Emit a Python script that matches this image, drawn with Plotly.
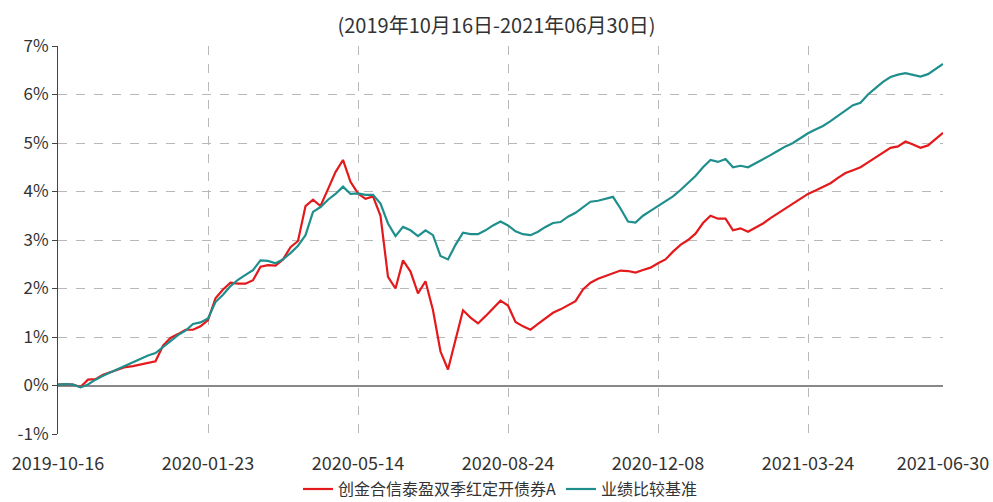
import plotly.graph_objects as go

# ---- data (cumulative return, %), sampled at evenly spaced trading-day steps ----
fund_name = "创金合信泰盈双季红定开债券A"
bench_name = "业绩比较基准"

fund = [
    0.02, 0.03, 0.02, -0.03, 0.12, 0.13, 0.22, 0.27, 0.33, 0.38,
    0.40, 0.43, 0.46, 0.50, 0.82, 0.98, 1.06, 1.15, 1.15, 1.22,
    1.35, 1.80, 1.98, 2.12, 2.10, 2.10, 2.17, 2.45, 2.48, 2.47,
    2.60, 2.85, 2.98, 3.70, 3.83, 3.70, 4.05, 4.40, 4.65, 4.20,
    3.96, 3.85, 3.90, 3.50, 2.24, 2.00, 2.58, 2.35, 1.90, 2.15,
    1.55, 0.70, 0.33, 0.95, 1.55, 1.40, 1.28, 1.43, 1.58, 1.75,
    1.65, 1.31, 1.22, 1.15, 1.27, 1.38, 1.50, 1.57, 1.65, 1.74,
    1.98, 2.12, 2.20, 2.26, 2.32, 2.37, 2.36, 2.33, 2.38, 2.43,
    2.52, 2.60, 2.76, 2.90, 3.00, 3.13, 3.35, 3.50, 3.44, 3.44,
    3.20, 3.24, 3.17, 3.25, 3.34, 3.45, 3.55, 3.65, 3.74, 3.85,
    3.95, 4.02, 4.10, 4.17, 4.28, 4.38, 4.44, 4.50, 4.60, 4.70,
    4.80, 4.90, 4.93, 5.03, 4.97, 4.90, 4.95, 5.08, 5.21,
]

bench = [
    0.02, 0.03, 0.02, -0.04, 0.02, 0.12, 0.20, 0.27, 0.34, 0.41,
    0.47, 0.54, 0.62, 0.67, 0.80, 0.92, 1.04, 1.13, 1.27, 1.30,
    1.38, 1.72, 1.87, 2.05, 2.18, 2.28, 2.38, 2.58, 2.57, 2.52,
    2.60, 2.73, 2.88, 3.10, 3.58, 3.68, 3.83, 3.95, 4.10, 3.95,
    3.96, 3.93, 3.93, 3.75, 3.34, 3.08, 3.27, 3.20, 3.08, 3.20,
    3.10, 2.67, 2.60, 2.90, 3.15, 3.12, 3.12, 3.20, 3.30, 3.38,
    3.30, 3.18, 3.12, 3.10, 3.17, 3.27, 3.35, 3.37, 3.48, 3.56,
    3.68, 3.79, 3.81, 3.85, 3.89, 3.65, 3.38, 3.36, 3.50, 3.60,
    3.70, 3.80, 3.90, 4.03, 4.17, 4.32, 4.50, 4.65, 4.61, 4.67,
    4.50, 4.53, 4.50, 4.58, 4.67, 4.75, 4.84, 4.93, 5.00, 5.10,
    5.20, 5.28, 5.35, 5.45, 5.56, 5.68, 5.78, 5.83, 6.00, 6.13,
    6.26, 6.36, 6.41, 6.44, 6.40, 6.37, 6.42, 6.52, 6.63,
]

tick_positions = [0, 20, 40, 60, 80, 100, 118]
tick_labels = ["2019-10-16", "2020-01-23", "2020-05-14", "2020-08-24",
               "2020-12-08", "2021-03-24", "2021-06-30"]
y_ticks = [-1, 0, 1, 2, 3, 4, 5, 6, 7]
y_tick_labels = ["-1%", "0%", "1%", "2%", "3%", "4%", "5%", "6%", "7%"]

subtitle = "(2019年10月16日-2021年06月30日)"

x_idx = list(range(len(fund)))

FONT = "Noto Sans CJK SC, Microsoft YaHei, sans-serif"
RED = "#E3191B"
TEAL = "#1E8F8C"

fig = go.Figure()
fig.add_trace(go.Scatter(x=x_idx, y=fund, mode="lines", name=fund_name,
                         line=dict(color=RED, width=2.2)))
fig.add_trace(go.Scatter(x=x_idx, y=bench, mode="lines", name=bench_name,
                         line=dict(color=TEAL, width=2.2)))

fig.update_layout(
    width=993, height=502,
    margin=dict(l=58, r=50, t=46, b=68, autoexpand=False),
    paper_bgcolor="white", plot_bgcolor="white",
    font=dict(family=FONT, size=17, color="#333"),
    title=dict(text=subtitle, x=0.5, xanchor="center", y=0.948, yanchor="middle",
               font=dict(family=FONT, size=20, color="#333")),
    showlegend=True,
    legend=dict(orientation="h", x=0.5, xanchor="center", y=-0.142, yanchor="middle",
                font=dict(family=FONT, size=16, color="#333"),
                itemwidth=30, tracegroupgap=0),
    xaxis=dict(range=[0, 118], tickmode="array", tickvals=tick_positions,
               ticktext=tick_labels, showgrid=True, gridcolor="#b8b8b8",
               griddash="dash", gridwidth=1, showline=False, zeroline=False,
               ticks="", ticklabelstandoff=17, automargin=False,
               tickfont=dict(family=FONT, size=18, color="#333")),
    yaxis=dict(range=[-1, 7], tickmode="array", tickvals=y_ticks,
               ticktext=y_tick_labels, showgrid=True, gridcolor="#b8b8b8",
               griddash="dash", gridwidth=1, showline=True, linecolor="#444",
               linewidth=1, ticks="outside", ticklen=5, tickcolor="#444",
               zeroline=True, zerolinecolor="#888", zerolinewidth=1.5,
               automargin=False,
               tickfont=dict(family=FONT, size=17, color="#333")),
)

fig.write_html(
    "out.html",
    config={"displayModeBar": False},
    post_script="document.body.style.margin='0';document.body.style.padding='0';"
                "document.body.style.overflow='hidden';",
)
